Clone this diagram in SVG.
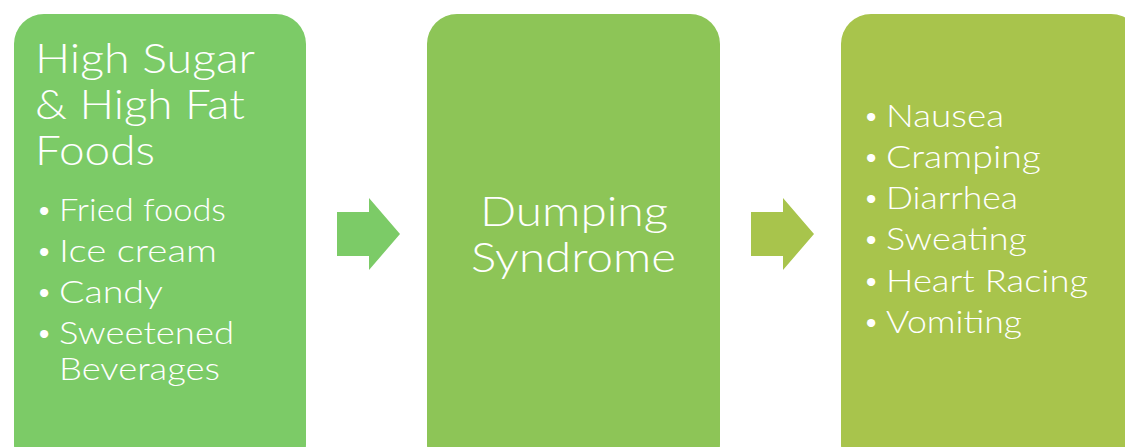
<svg xmlns="http://www.w3.org/2000/svg" width="1125" height="447" viewBox="0 0 1125 447">
<style>
.t{font-family:"Lato","Liberation Sans",sans-serif;fill:#fff;font-weight:300;}
.h{font-size:42px;}
.b{font-size:31px;}
.d{font-size:28px;}
</style>
<rect width="1125" height="447" fill="#fff"/>
<g id="node1">
<rect x="14" y="14" width="292" height="460" rx="30" fill="#7ccb67"/>
<text class="t h" x="35" y="73" textLength="220" lengthAdjust="spacingAndGlyphs">High Sugar</text>
<text class="t h" x="35" y="119" textLength="210" lengthAdjust="spacingAndGlyphs">&amp; High Fat</text>
<text class="t h" x="35" y="165" textLength="120" lengthAdjust="spacingAndGlyphs">Foods</text>
<text class="t d" x="36" y="219">•</text>
<text class="t d" x="36" y="260">•</text>
<text class="t d" x="36" y="301">•</text>
<text class="t d" x="36" y="342">•</text>
<text class="t b" x="59" y="221" textLength="167" lengthAdjust="spacingAndGlyphs">Fried foods</text>
<text class="t b" x="59" y="262" textLength="158" lengthAdjust="spacingAndGlyphs">Ice cream</text>
<text class="t b" x="59" y="303" textLength="104" lengthAdjust="spacingAndGlyphs">Candy</text>
<text class="t b" x="59" y="344" textLength="175" lengthAdjust="spacingAndGlyphs">Sweetened</text>
<text class="t b" x="59" y="380" textLength="161" lengthAdjust="spacingAndGlyphs">Beverages</text>
</g>
<g id="node2">
<rect x="427" y="14" width="293" height="460" rx="30" fill="#8dc557"/>
<text class="t h" x="480" y="226" textLength="188" lengthAdjust="spacingAndGlyphs">Dumping</text>
<text class="t h" x="471" y="272" textLength="205" lengthAdjust="spacingAndGlyphs">Syndrome</text>
</g>
<g id="node3">
<rect x="841" y="14" width="300" height="460" rx="30" fill="#a8c44c"/>
<text class="t d" x="863" y="125">•</text>
<text class="t d" x="863" y="166">•</text>
<text class="t d" x="863" y="207">•</text>
<text class="t d" x="863" y="248">•</text>
<text class="t d" x="863" y="290">•</text>
<text class="t d" x="863" y="331">•</text>
<text class="t b" x="886" y="127" textLength="118" lengthAdjust="spacingAndGlyphs">Nausea</text>
<text class="t b" x="886" y="168" textLength="155" lengthAdjust="spacingAndGlyphs">Cramping</text>
<text class="t b" x="886" y="209" textLength="132" lengthAdjust="spacingAndGlyphs">Diarrhea</text>
<text class="t b" x="886" y="250" textLength="141" lengthAdjust="spacingAndGlyphs">Sweating</text>
<text class="t b" x="886" y="292" textLength="202" lengthAdjust="spacingAndGlyphs">Heart Racing</text>
<text class="t b" x="886" y="333" textLength="136" lengthAdjust="spacingAndGlyphs">Vomiting</text>
</g>
<g id="connectors">
<polygon points="337,212 369,212 369,198 400,234 369,270 369,256 337,256" fill="#7ccb67"/>
<polygon points="751,212 783,212 783,198 814,234 783,270 783,256 751,256" fill="#a8c44c"/>
</g>
</svg>
